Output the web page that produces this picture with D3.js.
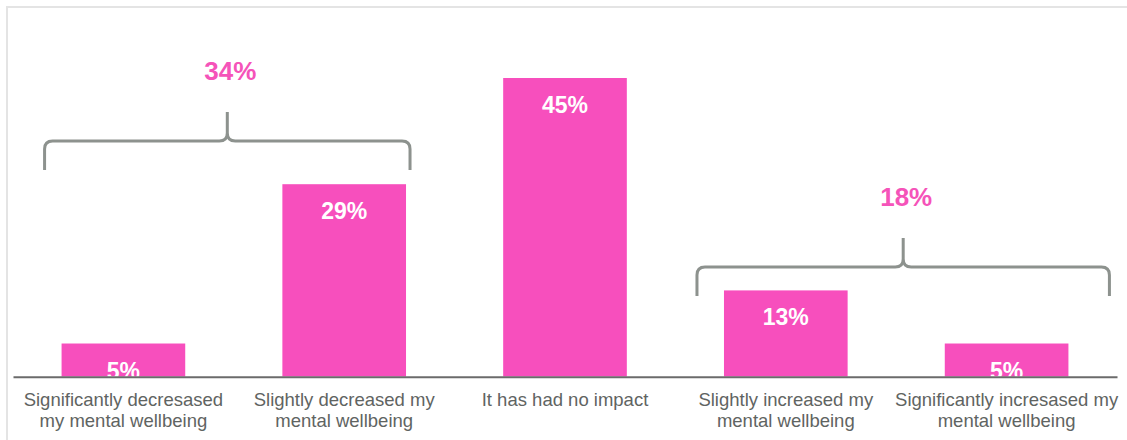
<!DOCTYPE html>
<html>
<head>
<meta charset="utf-8">
<script src="https://cdn.jsdelivr.net/npm/d3@7"></script>
<style>
  body { margin: 0; background: #fff; }
  svg { display: block; font-family: "Liberation Sans", Arial, sans-serif; }
</style>
</head>
<body>
<svg width="1127" height="440"></svg>
<script>
const categories = [
  ["Significantly decresased", "my mental wellbeing"],
  ["Slightly decreased my", "mental wellbeing"],
  ["It has had no impact"],
  ["Slightly increased my", "mental wellbeing"],
  ["Significantly incresased my", "mental wellbeing"]
];
const values = [5, 29, 45, 13, 5];
const valueLabels = ["5%", "29%", "45%", "13%", "5%"];

// bracket groups: first and last category index, total label
const groupFrom = [0, 3];
const groupTo = [1, 4];
const groupLabels = ["34%", "18%"];

const pink = "#f74fbd",
  labelPink = "#f553b9",
  bracketGray = "#8d928e",
  axisGray = "#6b6b6b",
  textGray = "#5f6462";

const svg = d3.select("svg");

// frame
svg.append("rect")
  .attr("x", 7).attr("y", 7)
  .attr("width", 1140).attr("height", 460)
  .attr("fill", "none")
  .attr("stroke", "#e4e4e4")
  .attr("stroke-width", 2);

// scales
const idx = d3.range(values.length);
const xScale = d3.scaleBand().domain(idx).range([13, 1117])
  .paddingInner(0.44).paddingOuter(0.22);
const yScale = d3.scaleLinear().domain([0, 45]).range([376.7, 78]);

// bars
svg.append("g")
  .selectAll("rect")
  .data(values)
  .join("rect")
  .attr("x", (d, i) => xScale(i))
  .attr("y", (d) => yScale(d))
  .attr("width", xScale.bandwidth())
  .attr("height", (d) => yScale(0) - yScale(d))
  .attr("fill", pink);

// value labels inside bars
svg.append("g")
  .selectAll("text")
  .data(values)
  .join("text")
  .attr("x", (d, i) => xScale(i) + xScale.bandwidth() / 2)
  .attr("y", (d) => yScale(d) + 35)
  .attr("text-anchor", "middle")
  .attr("fill", "#fff")
  .attr("font-weight", "bold")
  .attr("font-size", 23)
  .text((d, i) => valueLabels[i]);

// white mask below baseline so low labels get cut like the original
svg.append("rect")
  .attr("x", 9).attr("y", yScale(0))
  .attr("width", 1116).attr("height", 20)
  .attr("fill", "#fff");

// x axis
const xAxis = d3.axisBottom(xScale).tickSize(0).tickFormat("");
const xAxisG = svg.append("g")
  .attr("transform", `translate(0,${yScale(0)})`)
  .call(xAxis);
xAxisG.select("path.domain")
  .attr("stroke", axisGray)
  .attr("stroke-width", 2);

xAxisG.selectAll(".tick").each(function (d) {
  const t = d3.select(this).append("text")
    .attr("fill", textGray)
    .attr("font-size", 18.5)
    .attr("text-anchor", "middle");
  categories[d].forEach((line, j) => {
    t.append("tspan").attr("x", 0).attr("y", 29 + j * 21).text(line);
  });
});

// brackets
const bracketY = [141, 267];
const bracketPad = [[-17, 4], [-27, 41]];
const r = 8;
groupLabels.forEach((lab, g) => {
  const x0 = xScale(groupFrom[g]) + bracketPad[g][0];
  const x1 = xScale(groupTo[g]) + xScale.bandwidth() + bracketPad[g][1];
  const xm = (x0 + x1) / 2;
  const y = bracketY[g];
  const path = d3.path();
  path.moveTo(x0, y + 29);
  path.lineTo(x0, y + r);
  path.quadraticCurveTo(x0, y, x0 + r, y);
  path.lineTo(xm - r, y);
  path.quadraticCurveTo(xm, y, xm, y - r);
  path.lineTo(xm, y - 29);
  path.moveTo(xm, y - r);
  path.quadraticCurveTo(xm, y, xm + r, y);
  path.lineTo(x1 - r, y);
  path.quadraticCurveTo(x1, y, x1, y + r);
  path.lineTo(x1, y + 29);
  svg.append("path")
    .attr("d", path.toString())
    .attr("fill", "none")
    .attr("stroke", bracketGray)
    .attr("stroke-width", 3);

  svg.append("text")
    .attr("x", xm + 3)
    .attr("y", y - 61)
    .attr("text-anchor", "middle")
    .attr("fill", labelPink)
    .attr("font-weight", "bold")
    .attr("font-size", 26)
    .text(lab);
});
</script>
</body>
</html>
